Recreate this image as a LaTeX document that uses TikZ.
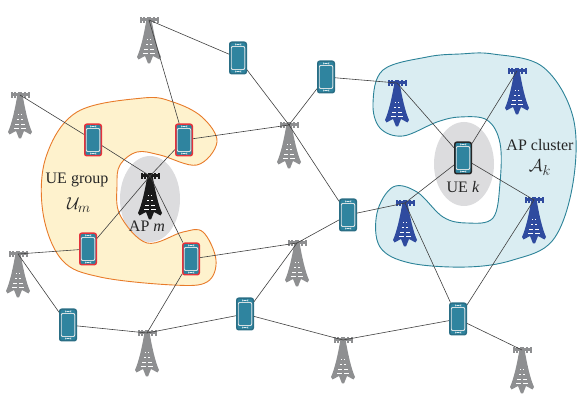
\documentclass[tikz,border=0pt]{standalone}
\usepackage{fontspec}
\setmainfont{Liberation Serif}
\definecolor{tgrey}{HTML}{8E8F91}
\definecolor{tblue}{HTML}{2F4B9F}
\definecolor{tblack}{HTML}{1A1A1A}
\definecolor{teal1}{HTML}{2F849F}
\definecolor{tealdk}{HTML}{2A6E85}
\definecolor{phred}{HTML}{E5323B}
\definecolor{orline}{HTML}{E87B2A}
\definecolor{orfill}{HTML}{FEF2CD}
\definecolor{blline}{HTML}{2C8398}
\definecolor{blfill}{HTML}{DAEDF2}
\definecolor{ellgrey}{HTML}{DCDCDE}
\tikzset{
  link/.style={draw=black!75,line width=0.6pt},
  lab/.style={inner sep=0pt,font=\fontsize{16}{18}\selectfont,text=black!85},
  phonebase/.style={draw=#1,fill=teal1,line width=1.5pt,rounded corners=2pt,
    minimum width=16.5pt,minimum height=31.5pt,inner sep=0pt,
    path picture={
      \fill[white!92!black] ([shift={(1pt,-3.8pt)}]path picture bounding box.north west) rectangle ([shift={(-1pt,3.8pt)}]path picture bounding box.south east);
      \fill[teal1] ([shift={(1.8pt,-4.6pt)}]path picture bounding box.north west) rectangle ([shift={(-1.8pt,4.6pt)}]path picture bounding box.south east);
      \fill[white!85!teal1] ([shift={(-3pt,-2.6pt)}]path picture bounding box.north) rectangle ([shift={(3pt,-1.8pt)}]path picture bounding box.north);
      \fill[white!85!teal1] ([shift={(-3pt,1.8pt)}]path picture bounding box.south) rectangle ([shift={(3pt,2.6pt)}]path picture bounding box.south);
    }},
  phone/.style={phonebase=tealdk},
  redphone/.style={phonebase=phred},
  blackphone/.style={phonebase=black!85},
  towerpic/.pic={
    \fill[#1] (-9.5,-1.5) rectangle (9.5,1.5);
    \foreach \q in {-8.5,-4.7,-1.3,1.3,4.7,8.5} {\fill[#1] (\q-1,-3) rectangle (\q+1,3);}
    \fill[#1] (-2.6,0) -- (2.6,0) .. controls (5,14) and (8,28) .. (12,37) -- (10.5,39.5) -- (4,36) -- (1,43.5) -- (-1,43.5) -- (-4,36) -- (-10.5,39.5) -- (-12,37) .. controls (-8,28) and (-5,14) .. (-2.6,0) -- cycle;
    \foreach \yy/\hw in {19/2.4,24/3.4,29/4.6,33/6} {
      \fill[white] (-\hw,\yy) rectangle (-0.6,\yy+1.4);
      \fill[white] (\hw,\yy) rectangle (0.6,\yy+1.4);
    }
  }
}
\newcommand{\tower}[3]{\coordinate (#1) at (#2); \pic at (#1) {towerpic=#3};}
\begin{document}
\begin{tikzpicture}[x=1pt,y=-1pt]
\useasboundingbox (0,0) rectangle (581,411);
% grey ellipses
\fill[ellgrey] (150,199) ellipse [x radius=30,y radius=43];
\fill[ellgrey] (464,164) ellipse [x radius=30,y radius=42];
% blobs
\draw[orline,fill=orfill,line width=0.9pt] plot[smooth cycle,tension=0.6] coordinates {
 (143,98) (173,102) (202,117) (217,142) (197,165) (160,155) (137,152) (120,165) (117,185) (120,215)
 (147,243) (183,232) (203,232) (216,260) (207,282) (173,285) (100,277) (62,260) (43,213) (46,157) (77,112)};
\draw[blline,fill=blfill,line width=0.9pt] plot[smooth cycle,tension=0.6] coordinates {
 (493,54) (543,67) (573,117) (573,183) (553,240) (513,260) (467,267) (410,263) (380,247) (377,213)
 (393,187) (417,192) (443,217) (467,223) (493,218) (500,183) (500,143) (487,120) (460,117) (437,122)
 (403,136) (380,128) (373,103) (383,70) (427,57) (460,54)};
% towers
\tower{t1}{149,20}{tgrey}
\tower{t2}{20,95}{tgrey}
\tower{t3}{18,254}{tgrey}
\tower{t4}{289,125}{tgrey}
\tower{t5}{297,243}{tgrey}
\tower{t6}{147,333}{tgrey}
\tower{t7}{343,340}{tgrey}
\tower{t8}{522,350}{tgrey}
\tower{b1}{397,83}{tblue}
\tower{b2}{517,71}{tblue}
\tower{b3}{405,203}{tblue}
\tower{b4}{534,200}{tblue}
\tower{apm}{150,176}{tblack}
% phones
\node[phone] (p1) at (238,58) {};
\node[phone] (p2) at (326,77) {};
\node[redphone] (p3) at (93,140) {};
\node[redphone] (p4) at (184,140) {};
\node[redphone] (p5) at (88,249) {};
\node[redphone] (p6) at (191,259) {};
\node[phone] (p7) at (348,215) {};
\node[phone] (p8) at (245,314) {};
\node[phone] (p9) at (68,325) {};
\node[phone] (p10) at (458,319) {};
\node[blackphone] (uek) at (463,158) {};
% links
\foreach \a/\b in {t1/p1,t1/p4,p1/t4,t4/p2,t4/p7,t4/p4,t2/p3,p3/apm,p4/apm,p5/apm,p6/apm,
  t3/p5,t3/p9,p9/t6,t6/p6,t6/p8,p8/t5,t5/p6,p8/t7,t7/p10,p10/t8,p10/b3,p10/b4,p7/t5,p7/b3,p2/b1,
  b1/uek,b2/uek,b3/uek,b4/uek}
  {\draw[link] (\a) -- (\b);}
% labels
\node[lab] (l1) at (77,180) {UE group};
\node[lab] (l2) at (79,205) {\fontsize{19}{21}\selectfont$\mathcal{U}_m$};
\node[lab] (l3) at (147,226) {AP \textit{m}};
\node[lab] (l4) at (463,187) {UE \textit{k}};
\node[lab] (l5) at (540,145) {AP cluster};
\node[lab] (l6) at (540,168) {\fontsize{19}{21}\selectfont$\mathcal{A}_k$};
\end{tikzpicture}
\end{document}
